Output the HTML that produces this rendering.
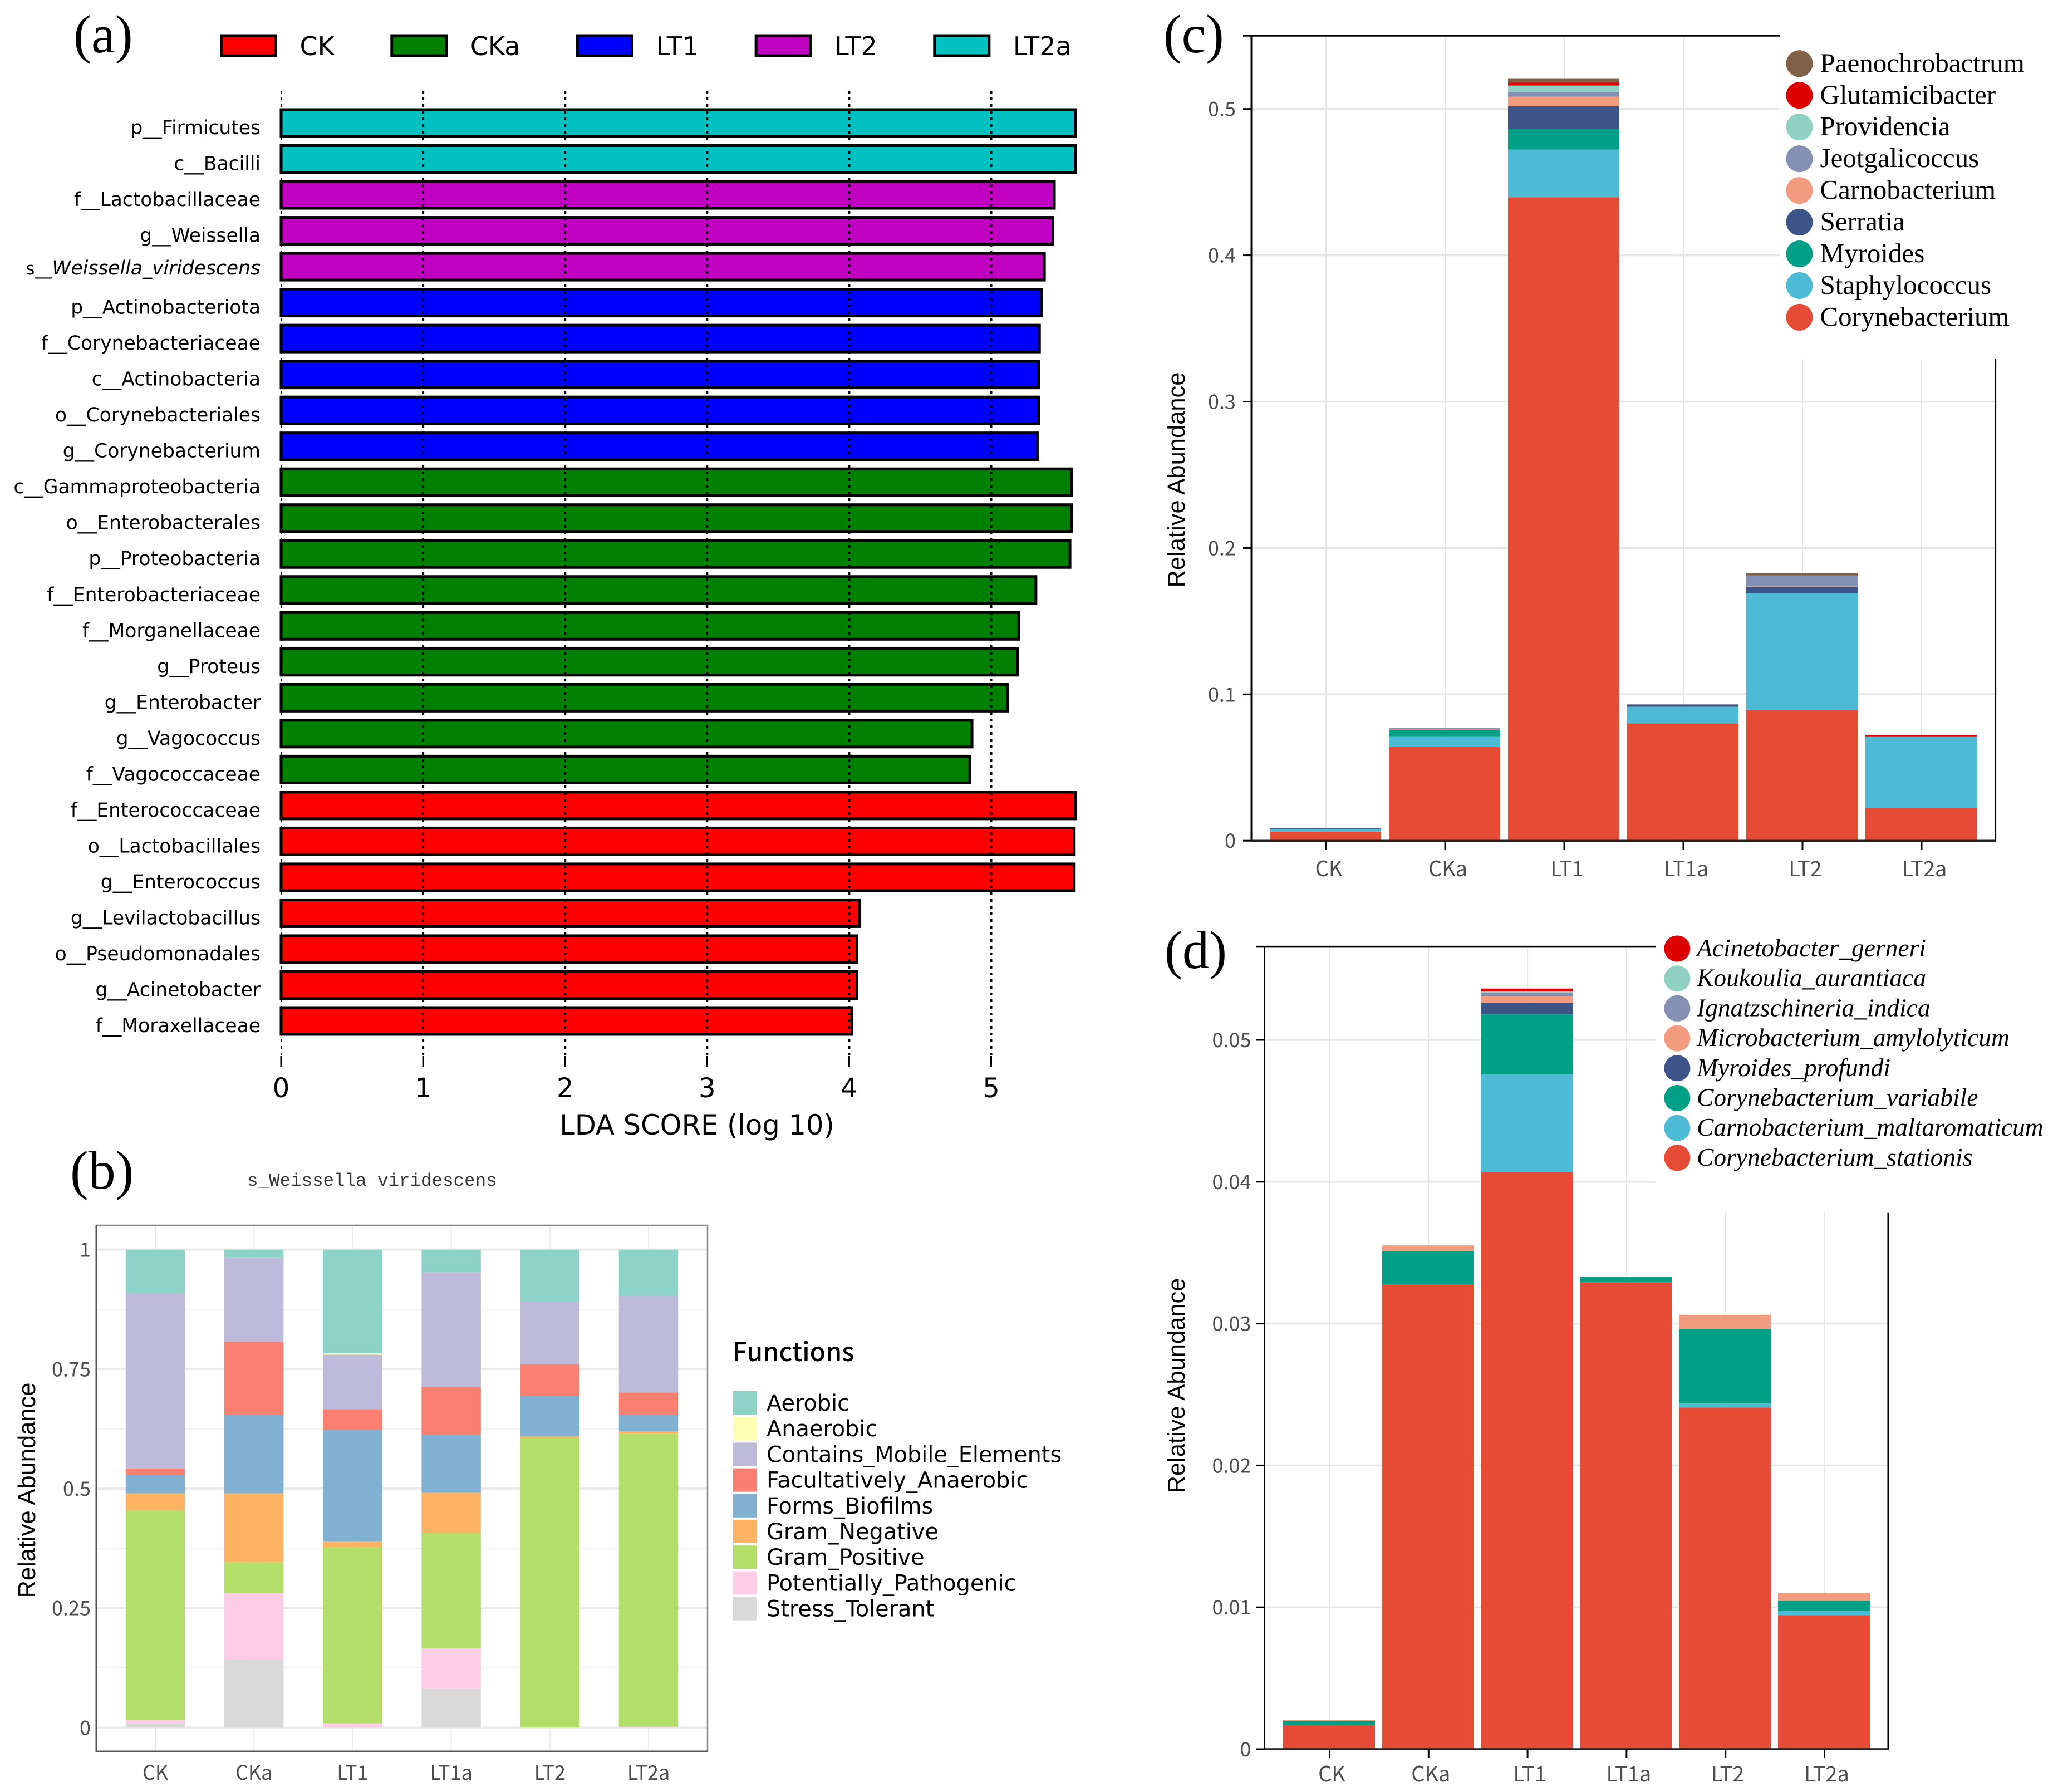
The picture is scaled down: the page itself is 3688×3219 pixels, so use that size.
<!DOCTYPE html>
<html lang="en">
<head>
<meta charset="utf-8">
<title>LEfSe and abundance charts</title>
<style>
html,body{margin:0;padding:0;background:#fff;}
svg{display:block;}
.serif{font-family:"Liberation Serif",serif;}
.dj{font-family:"DejaVu Sans",sans-serif;}
.noto{font-family:"Liberation Sans","Noto Sans CJK SC",sans-serif;}
.tick{font-family:"Noto Sans CJK SC",sans-serif;fill:#4d4d4d;}
</style>
</head>
<body>
<svg id="fig" xmlns="http://www.w3.org/2000/svg" width="3688" height="3219" viewBox="0 0 3688 3219">
<rect width="3688" height="3219" fill="#fff"/>
<g id="pa"></g>
<g id="pb"></g>
<g id="pc"></g>
<g id="pd"></g>
<text class="serif" x="132" y="94" font-size="96">(a)</text>
<text class="serif" x="126" y="2135" font-size="98">(b)</text>
<text class="serif" x="2090" y="94" font-size="98">(c)</text>
<text class="serif" x="2092" y="1739" font-size="96">(d)</text>
<text class="dj" x="1252" y="2038" font-size="49.5" text-anchor="middle">LDA SCORE (log 10)</text>
<text font-family="'Liberation Mono',monospace" x="444" y="2130" font-size="32.5" fill="#333">s_Weissella viridescens</text>
<text font-family="'Liberation Sans',sans-serif" font-size="43.5" text-anchor="middle" transform="translate(63,2677) rotate(-90)">Relative Abundance</text>
<text font-family="'Liberation Sans',sans-serif" font-size="43.5" text-anchor="middle" transform="translate(2128,862) rotate(-90)">Relative Abundance</text>
<text font-family="'Liberation Sans',sans-serif" font-size="43.5" text-anchor="middle" transform="translate(2128,2489) rotate(-90)">Relative Abundance</text>
<text font-family="'Noto Sans CJK SC',sans-serif" font-size="46.5" font-weight="500" x="1316" y="2445">Functions</text>
</svg>
<script>
// ---------- Panel (a) data ----------
const ldaLabels = ["p__Firmicutes","c__Bacilli","f__Lactobacillaceae","g__Weissella","s__Weissella_viridescens","p__Actinobacteriota","f__Corynebacteriaceae","c__Actinobacteria","o__Corynebacteriales","g__Corynebacterium","c__Gammaproteobacteria","o__Enterobacterales","p__Proteobacteria","f__Enterobacteriaceae","f__Morganellaceae","g__Proteus","g__Enterobacter","g__Vagococcus","f__Vagococcaceae","f__Enterococcaceae","o__Lactobacillales","g__Enterococcus","g__Levilactobacillus","o__Pseudomonadales","g__Acinetobacter","f__Moraxellaceae"];
const ldaScores = [5.595,5.595,5.445,5.435,5.375,5.355,5.34,5.335,5.335,5.325,5.565,5.565,5.555,5.315,5.195,5.185,5.115,4.865,4.85,5.595,5.585,5.585,4.075,4.055,4.055,4.02];
const ldaGroups = ["LT2a","LT2a","LT2","LT2","LT2","LT1","LT1","LT1","LT1","LT1","CKa","CKa","CKa","CKa","CKa","CKa","CKa","CKa","CKa","CK","CK","CK","CK","CK","CK","CK"];
const ldaTicks = [0,1,2,3,4,5];
const ldaLegend = ["CK","CKa","LT1","LT2","LT2a"];
const ldaColors = {CK:"#ff0000",CKa:"#008000",LT1:"#0000ff",LT2:"#c000c0",LT2a:"#00c0c0"};

// ---------- Panel (b) data ----------
const bSamples = ["CK","CKa","LT1","LT1a","LT2","LT2a"];
const bTickValues = [0,0.25,0.5,0.75,1];
const bTickLabels = ["0","0.25","0.5","0.75","1"];
const bLegend = ["Aerobic","Anaerobic","Contains_Mobile_Elements","Facultatively_Anaerobic","Forms_Biofilms","Gram_Negative","Gram_Positive","Potentially_Pathogenic","Stress_Tolerant"];
const bColors = ["#8dd3c7","#ffffb3","#bebada","#fb8072","#80b1d3","#fdb462","#b3de69","#fccde5","#d9d9d9"];
const bAerobic = [0.091,0.0165,0.217,0.048,0.109,0.096];
const bAnaerobic = [0,0,0.003,0,0,0];
const bMobile = [0.367,0.1765,0.114,0.24,0.131,0.203];
const bFacultative = [0.014,0.153,0.043,0.099,0.066,0.047];
const bBiofilms = [0.038,0.164,0.234,0.122,0.085,0.034];
const bNegative = [0.035,0.144,0.012,0.084,0.004,0.005];
const bPositive = [0.4385,0.064,0.368,0.241,0.6045,0.613];
const bPathogenic = [0.0075,0.1405,0.009,0.085,0.0005,0.001];
const bStress = [0.009,0.1415,0,0.081,0,0.001];

// ---------- Panel (c) data ----------
const cSamples = ["CK","CKa","LT1","LT1a","LT2","LT2a"];
const cTickValues = [0,0.1,0.2,0.3,0.4,0.5];
const cTickLabels = ["0","0.1","0.2","0.3","0.4","0.5"];
const cLegend = ["Paenochrobactrum","Glutamicibacter","Providencia","Jeotgalicoccus","Carnobacterium","Serratia","Myroides","Staphylococcus","Corynebacterium"];
const cColors = ["#7e6148","#dc0000","#91d1c2","#8491b4","#f39b7f","#3c5488","#00a087","#4dbbd5","#e64b35"];
const cPaeno = [0,0.0003,0.0025,0,0.0016,0];
const cGlutami = [0,0,0.0021,0,0,0.001];
const cProvidencia = [0,0,0.0042,0,0,0];
const cJeotgali = [0,0.0008,0.0034,0.0008,0.0072,0];
const cCarno = [0,0.0003,0.0066,0,0.0006,0];
const cSerratia = [0.0006,0.0003,0.0156,0.0009,0.0044,0];
const cMyroides = [0,0.0043,0.0139,0.0004,0,0];
const cStaph = [0.0019,0.007,0.0326,0.0111,0.0799,0.0488];
const cCoryne = [0.0062,0.0643,0.4397,0.0802,0.0891,0.0225];

// ---------- Panel (d) data ----------
const dSamples = ["CK","CKa","LT1","LT1a","LT2","LT2a"];
const dTickValues = [0,0.01,0.02,0.03,0.04,0.05];
const dTickLabels = ["0","0.01","0.02","0.03","0.04","0.05"];
const dLegend = ["Acinetobacter_gerneri","Koukoulia_aurantiaca","Ignatzschineria_indica","Microbacterium_amylolyticum","Myroides_profundi","Corynebacterium_variabile","Carnobacterium_maltaromaticum","Corynebacterium_stationis"];
const dColors = ["#dc0000","#91d1c2","#8491b4","#f39b7f","#3c5488","#00a087","#4dbbd5","#e64b35"];
const dAcin = [0,0,0.0002,0,0,0];
const dKouk = [0,0,0.00008,0,0,0];
const dIndica = [0,0,0.00024,0,0,0];
const dAmylo = [0.0001,0.00038,0.0005,0.00002,0.00098,0.00058];
const dProfundi = [0,0,0.0008,0,0,0];
const dVariabile = [0.00028,0.00239,0.0042,0.00036,0.00526,0.00071];
const dMalta = [0,0,0.0069,0,0.0003,0.00029];
const dStationis = [0.0017,0.03274,0.0407,0.03292,0.02408,0.00944];

const NS = "http://www.w3.org/2000/svg";
function mk(tag, attrs, parent, txt){
  const n = document.createElementNS(NS, tag);
  for (const k in attrs) n.setAttribute(k, attrs[k]);
  if (txt !== undefined) n.textContent = txt;
  parent.appendChild(n);
  return n;
}

// ---------- Draw panel (a) ----------
(function(){
  const g = document.getElementById("pa");
  const x = v => 505 + v * 255.1;
  const y = i => 221 + i * 64.52;
  let el;
  ldaScores.forEach((v,i)=>{
    el = mk("rect",{x:x(0),y:y(i)-24,width:x(v)-x(0),height:48,fill:ldaColors[ldaGroups[i]],stroke:"#000","stroke-width":5},g);
    
    
    const label = ldaLabels[i];
    if (label === "s__Weissella_viridescens"){
      el = mk("text",{x:468,y:y(i)+14,"text-anchor":"end","font-size":34.5,class:"dj"},g);
      
      
      mk("tspan",{"font-size":31},el,"s__");
      mk("tspan",{"font-style":"italic"},el,"Weissella_viridescens");
    } else {
      el = mk("text",{x:468,y:y(i)+20,"text-anchor":"end","font-size":34.5,class:"dj"},g,label);
      
      
    }
  });
  ldaTicks.forEach(t=>{
    el = mk("line",{x1:x(t),x2:x(t),y1:163,y2:1897,stroke:"#000","stroke-width":t===0?2:4,"stroke-dasharray":"5 7"},g);
    
    
    el = mk("line",{x1:x(t),x2:x(t),y1:1897,y2:1917,stroke:"#000","stroke-width":3},g);
    
    
    el = mk("text",{x:x(t),y:1971,"text-anchor":"middle","font-size":48,class:"dj"},g,String(t));
    
    
  });
  let lx = 397.5;
  ldaLegend.forEach((name)=>{
    el = mk("rect",{x:lx,y:64,width:98,height:36,fill:ldaColors[name],stroke:"#000","stroke-width":5},g);
    
    
    el = mk("text",{x:lx+141,y:99,"font-size":46,class:"dj"},g,name);
    
    
    lx += el.getComputedTextLength() + 244;
  });
})();

// ---------- Draw panel (b) ----------
(function(){
  const g = document.getElementById("pb");
  const x = i => 279 + i * 177.2;
  const y = v => 3103.4 - v * 858.8;
  const barW = 106.5;
  let el;
  [0.125,0.375,0.625,0.875].forEach(t=>{
    el = mk("line",{x1:173,x2:1271,y1:y(t),y2:y(t),stroke:"#f2f2f2","stroke-width":2},g);
    
    
  });
  bTickValues.forEach((t,i)=>{
    el = mk("line",{x1:173,x2:1271,y1:y(t),y2:y(t),stroke:"#ebebeb","stroke-width":4},g);
    
    
    el = mk("text",{x:163,y:y(t)+13,"text-anchor":"end","font-size":36,class:"tick"},g,bTickLabels[i]);
    
    
  });
  bSamples.forEach((s,i)=>{
    el = mk("line",{x1:x(i),x2:x(i),y1:2201,y2:3146,stroke:"#ebebeb","stroke-width":2},g);
    
    
    el = mk("text",{x:x(i),y:3197,"text-anchor":"middle","font-size":36,class:"tick"},g,s);
    
    
  });
  const series = [bStress,bPathogenic,bPositive,bNegative,bBiofilms,bFacultative,bMobile,bAnaerobic,bAerobic];
  bSamples.forEach((s,i)=>{
    let base = 0;
    series.forEach((arr,k)=>{
      const v = arr[i];
      const colorIdx = series.length - 1 - k;
      if (v > 0){
        el = mk("rect",{x:x(i)-barW/2,y:y(base+v),width:barW,height:y(base)-y(base+v),fill:bColors[colorIdx]},g);
        
        
      }
      base += v;
    });
  });
  el = mk("path",{d:"M173 2201H1271V3146",fill:"none",stroke:"#888","stroke-width":2.5},g);
  
  
  el = mk("path",{d:"M173 2201V3146H1271",fill:"none",stroke:"#555","stroke-width":3},g);
  
  
  bLegend.forEach((name,i)=>{
    const ly = 2499 + i * 46.2;
    el = mk("rect",{x:1317,y:ly,width:43,height:42,fill:bColors[i]},g);
    
    
    el = mk("text",{x:1377,y:ly+35,"font-size":39.8,class:"dj"},g,name);
    
    
  });
})();

// ---------- Shared drawing for panels (c) and (d) ----------
function drawAbundance(g, o){
  const x = i => o.x0 + i * o.step;
  const y = v => o.yZero - v * o.yScale;
  let el;
  o.ticks.forEach((t,i)=>{
    el = mk("line",{x1:o.left,x2:o.right,y1:y(t),y2:y(t),stroke:"#e6e6e6","stroke-width":3.5},g);
    
    
  });
  o.samples.forEach((s,i)=>{
    el = mk("line",{x1:x(i),x2:x(i),y1:o.top,y2:o.yZero,stroke:"#e6e6e6","stroke-width":2},g);
    
    
  });
  el = mk("rect",{x:o.maskX,y:o.top-10,width:3688-o.maskX,height:o.maskBottom-o.top+10,fill:"#fff"},g);
  
  
  o.samples.forEach((s,i)=>{
    let base = 0;
    o.series.forEach((arr,k)=>{
      const v = arr[i];
      const colorIdx = o.series.length - 1 - k;
      if (v > 0){
        el = mk("rect",{x:x(i)-1-o.barW/2,y:y(base+v),width:o.barW,height:y(base)-y(base+v),fill:o.colors[colorIdx]},g);
        
        
      }
      base += v;
    });
  });
  el = mk("line",{x1:o.left,x2:o.left,y1:o.top,y2:o.yZero,stroke:"#000","stroke-width":3},g);
  
  
  el = mk("line",{x1:o.left-1,x2:o.maskX,y1:o.top,y2:o.top,stroke:"#000","stroke-width":3.5},g);
  
  
  el = mk("line",{x1:o.left-1,x2:o.right+1,y1:o.yZero,y2:o.yZero,stroke:"#222","stroke-width":3.5},g);
  
  
  el = mk("line",{x1:o.right,x2:o.right,y1:o.maskBottom,y2:o.yZero,stroke:"#000","stroke-width":3},g);
  
  
  el = mk("line",{x1:o.left-15,x2:o.left,y1:o.top,y2:o.top,stroke:"#000","stroke-width":3.5},g);
  
  
  o.ticks.forEach((t,i)=>{
    el = mk("line",{x1:o.left-15,x2:o.left,y1:y(t),y2:y(t),stroke:"#000","stroke-width":3},g);
    
    
    el = mk("text",{x:o.left-28+o.labelShift,y:y(t)+13,"text-anchor":"end","font-size":36,class:"tick"},g,o.tickLabels[i]);
    
    
  });
  o.samples.forEach((s,i)=>{
    el = mk("line",{x1:x(i),x2:x(i),y1:o.yZero,y2:o.yZero+16,stroke:"#000","stroke-width":3},g);
    
    
    el = mk("text",{x:x(i)+o.catShift,y:o.yZero+o.catDrop,"text-anchor":"middle","font-size":38,class:"tick"},g,s);
    
    
  });
  o.legend.forEach((name,i)=>{
    const ly = o.legendY + i * o.legendStep;
    el = mk("circle",{cx:o.legendX,cy:ly,r:o.dotR,fill:o.colors[i]},g);
    
    
    el = mk("text",{x:o.legendX+o.textGap,y:ly+o.textDrop,"font-size":o.legendFont,"font-style":o.legendStyle,class:"serif"},g,name);
    
    
  });
}

drawAbundance(document.getElementById("pc"),{
  x0:2382, step:214, yZero:1510.2, yScale:2629, barW:200, left:2248, right:3584.6, top:64,
  maskX:3197, maskBottom:645, labelShift:0, catShift:5, catDrop:64,
  samples:cSamples, ticks:cTickValues, tickLabels:cTickLabels, legend:cLegend, colors:cColors,
  series:[cCoryne,cStaph,cMyroides,cSerratia,cCarno,cJeotgali,cProvidencia,cGlutami,cPaeno],
  legendX:3232.5, legendY:114.3, legendStep:56.95, dotR:24, textGap:37, textDrop:15, legendFont:49, legendStyle:"normal"
});
drawAbundance(document.getElementById("pd"),{
  x0:2388.5, step:177.8, yZero:3142, yScale:25480, barW:165, left:2271.5, right:3392, top:1700.6,
  maskX:2974.5, maskBottom:2178.7, labelShift:4, catShift:4, catDrop:58,
  samples:dSamples, ticks:dTickValues, tickLabels:dTickLabels, legend:dLegend, colors:dColors,
  series:[dStationis,dMalta,dVariabile,dProfundi,dAmylo,dIndica,dKouk,dAcin],
  legendX:3013, legendY:1704, legendStep:53.7, dotR:23.5, textGap:35, textDrop:14, legendFont:45.5, legendStyle:"italic"
});
</script>
</body>
</html>
